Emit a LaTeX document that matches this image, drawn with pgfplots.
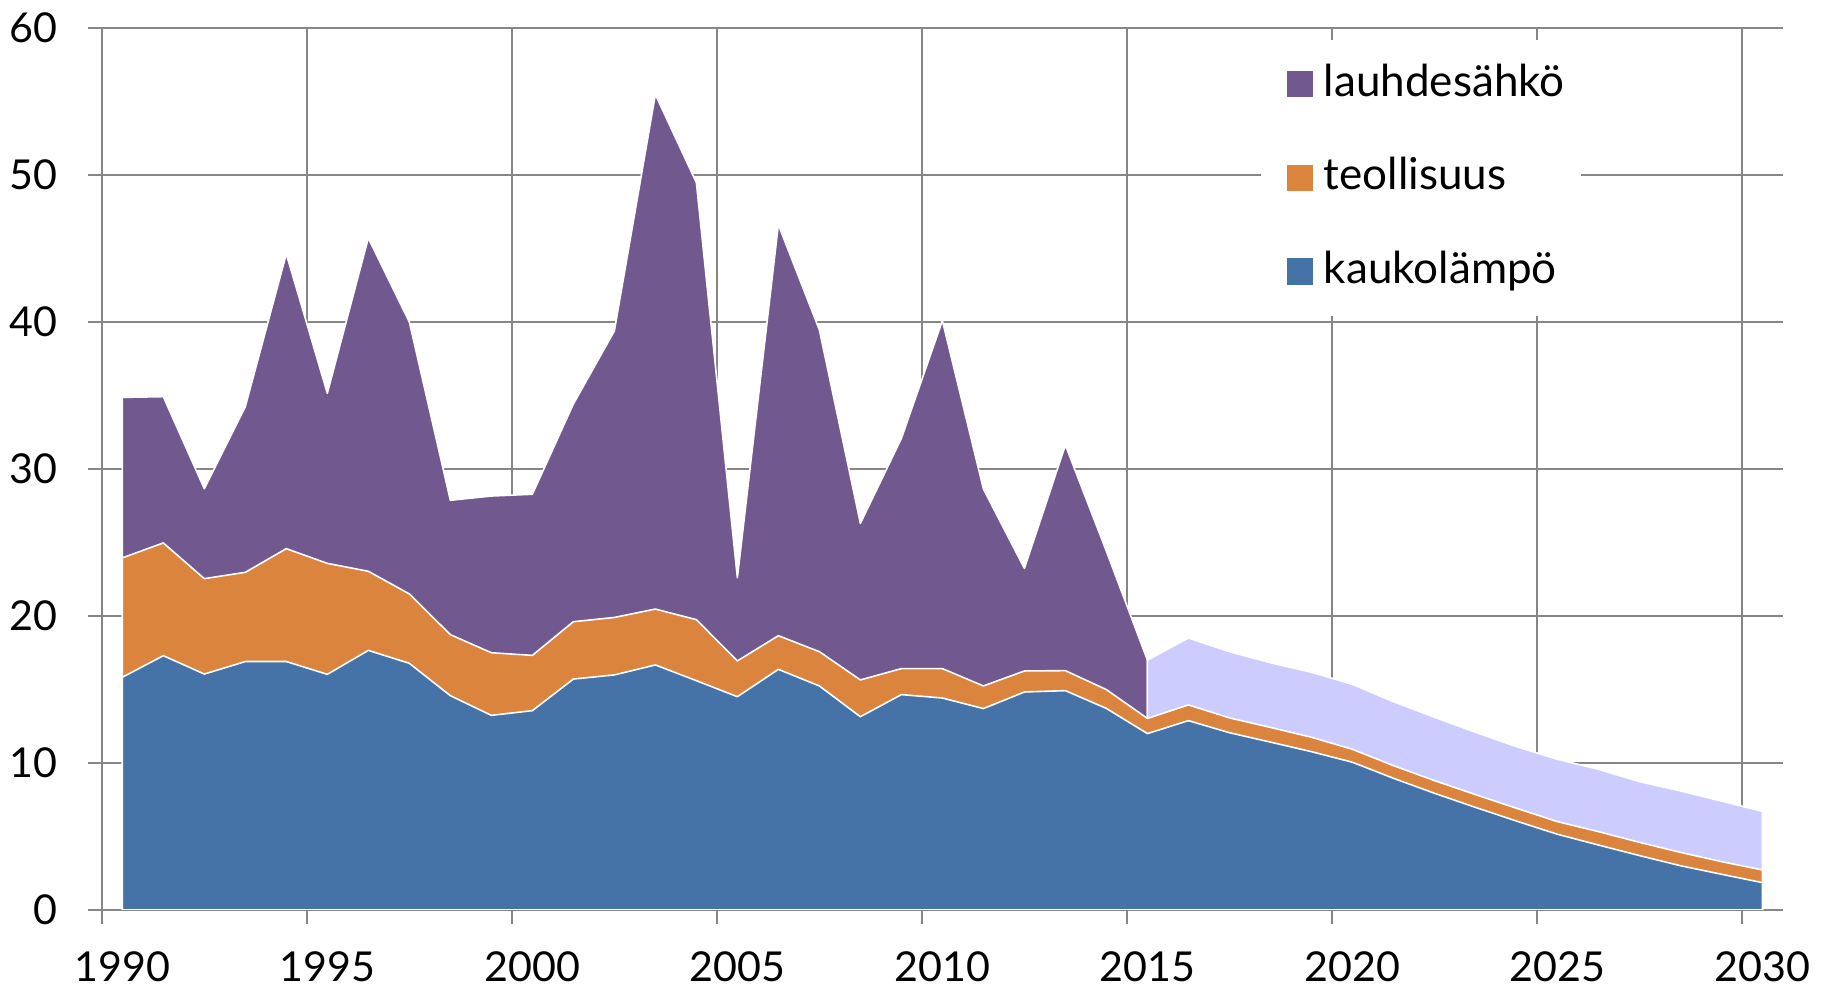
\documentclass[border=0pt]{standalone}
\usepackage{pgfplots}
\pgfplotsset{compat=1.18}
\usepackage{pgfplotstable}
\usepackage{fontspec}
\setmainfont{Lato}

\definecolor{cblue}{HTML}{4572A7}
\definecolor{corange}{HTML}{DB843D}
\definecolor{cpurple}{HTML}{71588F}
\definecolor{clav}{HTML}{CCCCFF}
\definecolor{gridgray}{RGB}{134,134,134}

% cumulative tops of the stacked layers
\pgfplotstableread{
x    top
1990.5 34.87
1991.5 34.92
1992.5 28.66
1993.5 34.24
1994.5 44.63
1995.5 35.15
1996.5 45.71
1997.5 40.00
1998.5 27.87
1999.5 28.16
2000.5 28.28
2001.5 34.42
2002.5 39.39
2003.5 55.48
2004.5 49.48
2005.5 22.60
2006.5 46.62
2007.5 39.46
2008.5 26.30
2009.5 32.08
2010.5 40.09
2011.5 28.64
2012.5 23.24
2013.5 31.62
2014.5 24.40
2015.5 17.00
}\purpletop

\pgfplotstableread{
x    top
2015.5 17.00
2016.5 18.50
2017.5 17.57
2018.5 16.82
2019.5 16.17
2020.5 15.35
2021.5 14.17
2022.5 13.11
2023.5 12.09
2024.5 11.11
2025.5 10.25
2026.5 9.57
2027.5 8.73
2028.5 8.10
2029.5 7.41
2030.5 6.71
}\lavtop

\pgfplotstableread{
x    orange blue
1990.5 23.95 15.83
1991.5 24.97 17.30
1992.5 22.54 16.05
1993.5 22.97 16.90
1994.5 24.58 16.90
1995.5 23.58 16.03
1996.5 23.04 17.66
1997.5 21.50 16.78
1998.5 18.73 14.58
1999.5 17.50 13.24
2000.5 17.32 13.56
2001.5 19.61 15.71
2002.5 19.90 15.99
2003.5 20.47 16.67
2004.5 19.75 15.60
2005.5 16.94 14.51
2006.5 18.66 16.37
2007.5 17.57 15.24
2008.5 15.65 13.15
2009.5 16.42 14.65
2010.5 16.42 14.42
2011.5 15.24 13.70
2012.5 16.26 14.83
2013.5 16.28 14.92
2014.5 14.99 13.71
2015.5 13.03 12.00
2016.5 13.95 12.88
2017.5 13.07 12.06
2018.5 12.42 11.42
2019.5 11.75 10.77
2020.5 10.93 10.05
2021.5 9.82 8.96
2022.5 8.80 7.94
2023.5 7.85 6.98
2024.5 6.92 6.05
2025.5 6.01 5.15
2026.5 5.33 4.42
2027.5 4.60 3.70
2028.5 3.92 3.01
2029.5 3.29 2.43
2030.5 2.72 1.86
}\lowerlayers

\begin{document}
\begin{tikzpicture}
\begin{axis}[
  set layers,
  scale only axis,
  width=420.3pt, height=220.5pt,
  xmin=1990, xmax=2031, ymin=0, ymax=60,
  axis x line*=bottom, axis y line*=left,
  axis line style={gridgray, line width=0.6pt, /pgfplots/on layer=axis foreground},
  xtick={1990,1995,...,2030},
  ytick={0,10,...,60},
  grid=major,
  grid style={gridgray, line width=0.5pt},
  tick align=outside,
  major tick length=3.5pt,
  tick style={gridgray, line width=0.5pt},
  /pgf/number format/assume math mode=true,
  /pgf/number format/1000 sep={},
  ticklabel style={font=\fontsize{10.3}{12}\selectfont},
  xticklabel style={xshift=5.13pt, yshift=-3.4pt},
  yticklabel style={xshift=-4pt},
  legend style={at={(0.689,0.9875)}, anchor=north west, draw=none, fill=white,
    inner xsep=2pt, inner ysep=3.6pt, row sep=8.4pt,
    nodes={inner sep=2pt, text height=8.5pt, text depth=2.5pt},
    font=\fontsize{11}{13.2}\selectfont},
  legend cell align=left,
  legend image code/.code={\path (0pt,0pt) -- (11.35pt,0pt);
    \fill[#1,draw=none] (4.25pt,-3.3pt) rectangle (10.75pt,3.3pt);},
  every axis plot/.append style={draw=white, line width=0.4pt, line join=round},
]
\addplot[fill=cpurple] table[x=x,y=top] {\purpletop} \closedcycle;
\addlegendentry{lauhdesähkö}
\addplot[fill=clav, forget plot] table[x=x,y=top] {\lavtop} \closedcycle;
\addplot[fill=corange] table[x=x,y=orange] {\lowerlayers} \closedcycle;
\addlegendentry{teollisuus}
\addplot[fill=cblue] table[x=x,y=blue] {\lowerlayers} \closedcycle;
\addlegendentry{kaukolämpö}
\end{axis}
\pgfresetboundingbox
\path (current axis.south west) ++(-25.45pt,-20.25pt) rectangle ++(456.25pt,247.75pt);
\end{tikzpicture}
\end{document}
